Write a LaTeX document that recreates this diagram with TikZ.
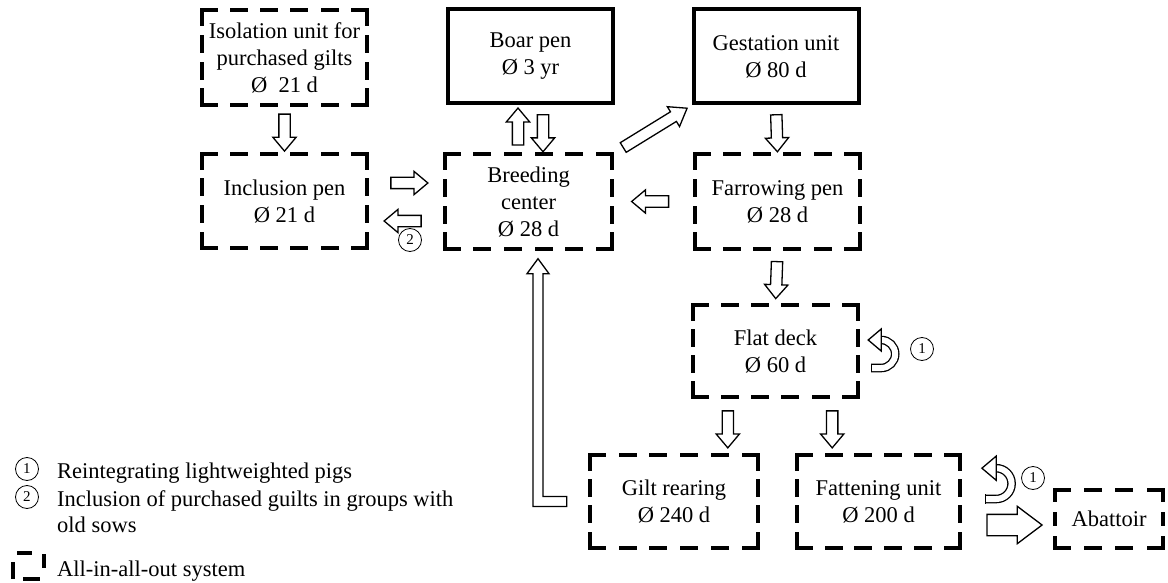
\documentclass[tikz,border=0pt]{standalone}
\usepackage{fontspec}
\setmainfont{Liberation Serif}
\usetikzlibrary{calc,shapes.arrows}
% #1 node, #2/#3 on/off for horizontal sides, #4/#5 on/off for vertical sides
\newcommand\aiobox[5]{%
  \draw[aio, dash pattern=on #2pt off #3pt] (#1.north west) -- (#1.north east);
  \draw[aio, dash pattern=on #2pt off #3pt] (#1.south west) -- (#1.south east);
  \draw[aio, dash pattern=on #4pt off #5pt] (#1.north west) -- (#1.south west);
  \draw[aio, dash pattern=on #4pt off #5pt] (#1.north east) -- (#1.south east);}
\newcommand\conn[3][]{\path (#2) -- (#3) node[blk,#1]{};}
\begin{document}
\begin{tikzpicture}[x=1pt,y=-1pt,
  txt/.style={font=\fontsize{22.5}{27}\selectfont},
  box/.style={txt, rectangle, inner sep=0pt, minimum width=165pt, minimum height=94pt, align=center},
  solidbox/.style={box, draw, line width=4pt},
  aio/.style={line width=4pt, line cap=rect},
  blk/.style={single arrow, draw=black, fill=white, line width=1.3pt, inner sep=0pt,
    text height=10pt, text depth=0pt, single arrow head extend=6pt,
    single arrow tip angle=80, single arrow head indent=0pt,
    minimum width=22pt, minimum height=37pt, midway, sloped, allow upside down},
  big/.style={text height=20pt, single arrow head extend=8pt, minimum width=36pt,
    minimum height=55pt, single arrow tip angle=74},
  circnum/.style={circle, draw, line width=0.8pt, minimum size=23pt, inner sep=0pt,
    font=\fontsize{15}{15}\selectfont},
  loopar/.pic={
    \draw[line width=1.3pt, double=white, double distance=6pt] (0,0) -- (10,0)
      arc[start angle=90, end angle=-90, radius=14];
    \draw[line width=1.3pt, fill=white] (10,-39) -- (-3,-28) -- (10,-17) -- cycle;
    \draw[line width=1.3pt] (0,-4.3) -- (0,4.3);
  }]
\useasboundingbox (0,0) rectangle (1168,583);

% nodes
\node[box] (iso) at (284.5,57.5) {Isolation unit for\\purchased gilts\\Ø~ 21 d};
\node[box] (incl) at (284.5,201) {Inclusion pen\\Ø 21 d};
\node[solidbox] (boar) at (530.5,56.5) {Boar pen\\Ø 3 yr};
\node[solidbox] (gest) at (776,56.5) {Gestation unit\\Ø 80 d};
\node[box, minimum width=167pt] (breed) at (528.5,201.5) {Breeding\\center\\Ø 28 d};
\node[box] (farrow) at (777.5,201.5) {Farrowing pen\\Ø 28 d};
\node[box, minimum height=92pt] (flat) at (775.5,351) {Flat deck\\Ø 60 d};
\node[box, minimum width=168pt, minimum height=93pt] (gilt) at (674,501.5) {Gilt rearing\\Ø 240 d};
\node[box, minimum width=163pt, minimum height=93pt] (fatten) at (878.5,501.5) {Fattening unit\\Ø 200 d};
\node[box, minimum width=108pt, minimum height=58pt] (abat) at (1109,519) {Abattoir};

\aiobox{iso}{14}{16.2}{14}{12.67}
\aiobox{incl}{14}{16.2}{14}{12.67}
\aiobox{breed}{14}{16.6}{14}{12.67}
\aiobox{farrow}{14}{16.2}{14}{12.67}
\aiobox{flat}{14}{16.2}{14}{12}
\aiobox{gilt}{14}{16.8}{14}{12.33}
\aiobox{fatten}{14}{15.8}{14}{12.33}
\aiobox{abat}{14}{17.33}{10}{14}

% block arrows
\conn{iso.south}{incl.north}
\coordinate (bu) at ($(boar.south)+(-12.5,0)$);
\coordinate (bd) at ($(boar.south)+(12.5,0)$);
\conn{bu |- breed.north}{bu}
\conn{bd}{bd |- breed.north}
\conn[minimum height=75pt, single arrow tip angle=72]{breed.north east}{gest.south west}
\conn{gest.south}{farrow.north}
\coordinate (ir) at ($(incl.east)+(0,-18)$);
\coordinate (il) at ($(incl.east)+(0,20)$);
\conn{ir}{ir -| breed.west}
\conn{il -| breed.west}{il}
\conn{farrow.west}{breed.east}
\conn{farrow.south}{flat.north}
\coordinate (fg) at ($(flat.south west)+(35,0)$);
\coordinate (ff) at ($(flat.south east)+(-26,0)$);
\conn{fg}{fg |- gilt.north}
\conn{ff}{ff |- fatten.north}
\coordinate (fab) at ($(abat.west)+(0,6)$);
\conn[big]{fab -| fatten.east}{fab}

% L-shaped return arrow gilt rearing -> breeding center
\coordinate (Lt) at ($(breed.south)+(9.5,10)$);
\coordinate (Le) at ($(gilt.west)+(-23,0)$);
\coordinate (Lc) at (Lt |- Le);
\draw[line width=1.3pt, fill=white] (Lt) -- ++(11,15) -- ++(-6,0) -- ($(Lc)+(5,-5)$)
  -- ($(Le)+(0,-5)$) -- ($(Le)+(0,5)$) -- ($(Lc)+(-5,5)$) -- ($(Lt)+(-5,15)$)
  -- ++(-6,0) -- cycle;

% self loops
\pic at ($(flat.east)+(13,17)$) {loopar};
\pic[scale=1.1] at ($(fatten.east)+(25,-2.5)$) {loopar};

% circled labels
\node[circnum] (c2) at (410,240) {2};
\node[circnum] (c1a) at (922,349) {1};
\node[circnum] (c1b) at (1033,478) {1};

% legend
\node[circnum] (k1) at (27,469) {1};
\node[txt, anchor=base west, inner sep=0pt] (t1) at (57,478) {Reintegrating lightweighted pigs};
\node[circnum] (k2) at (27,497) {2};
\node[txt, anchor=base west, inner sep=0pt] (t2) at (57,506) {Inclusion of purchased guilts in groups with};
\node[txt, anchor=base west, inner sep=0pt] (t3) at (57,532) {old sows};
\draw[line width=4pt] (17,553) -- (32,553);
\draw[line width=4pt] (13,562) -- (13,579);
\draw[line width=4pt] (23,579) -- (40,579);
\draw[line width=4pt] (44,554) -- (44,568);
\node[txt, anchor=base west, inner sep=0pt] (t4) at (57,576) {All-in-all-out system};
\end{tikzpicture}
\end{document}
